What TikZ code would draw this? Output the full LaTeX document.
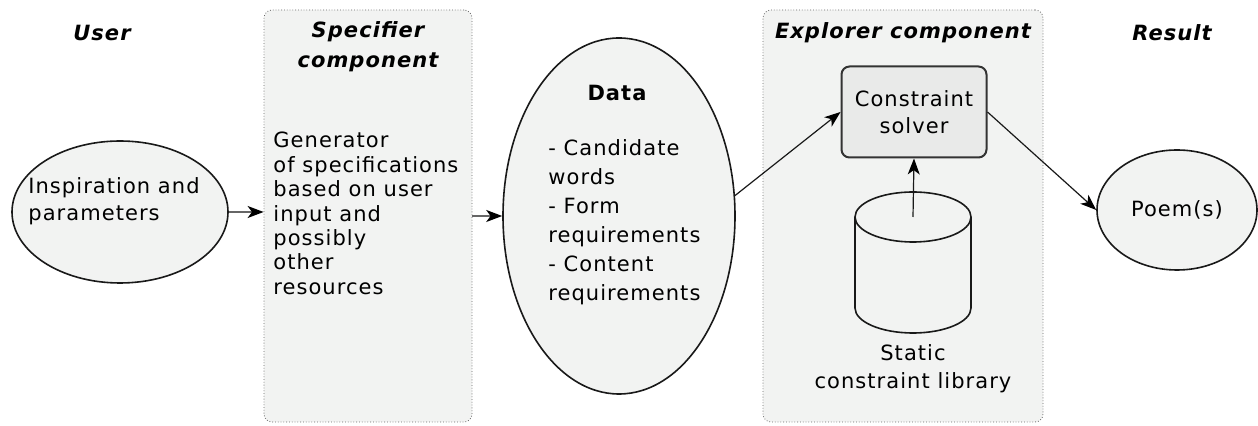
\documentclass[tikz,border=0pt]{standalone}
\usepackage{fontspec}
\setmainfont{DejaVu Sans}[LetterSpace=5]
\usetikzlibrary{positioning,shapes.geometric,arrows.meta}
\definecolor{panelfill}{RGB}{242,243,242}
\definecolor{solverfill}{RGB}{233,234,233}
\tikzset{
px/.style={x=0.5pt,y=-0.5pt},
panel/.style={draw=black!60,densely dotted,fill=panelfill,rounded corners=4pt,inner sep=0pt},
bubble/.style={ellipse,draw=black!90,line width=0.8pt,fill=panelfill,inner sep=0pt,font=\fontsize{10.5}{13.5}\selectfont},
solverbox/.style={draw=black!80,line width=1pt,fill=solverfill,rounded corners=4pt,align=center,font=\fontsize{10.5}{13.5}\selectfont},
drum/.style={draw=black!90,line width=0.8pt,fill=panelfill},
heading/.style={font=\fontsize{10.5}{15}\selectfont\bfseries\itshape,align=center},
body/.style={font=\fontsize{10.5}{12.2}\selectfont,align=left,inner sep=0pt},
listbody/.style={body,font=\fontsize{10.5}{14.5}\selectfont},
flow/.style={-{Stealth[length=8pt,width=6pt,inset=2.2pt,color=black]},line width=0.6pt,black!90},
flowthick/.style={flow,line width=0.9pt,black!60}
}
\begin{document}
\begin{tikzpicture}[px]
\useasboundingbox[fill=white] (0,0) rectangle (1258,426);
% component panels
\node[panel,minimum width=104pt,minimum height=206pt] (spec) at (368,216) {};
\node[panel,minimum width=140pt,minimum height=206pt] (expl) at (903,216) {};
% column headings
\node[heading] (userhead) at (102,33) {User};
\node[heading] (spechead) at (368,47) {Specifier\\component};
\node[heading] (explhead) at (903,33) {Explorer component};
\node[heading] (resulthead) at (1172,33) {Result};
% user input
\node[bubble,minimum width=108pt,minimum height=71pt] (insp) at (120,212) {};
\node[body,anchor=west,font=\fontsize{10.5}{13.5}\selectfont] (insptext) at (28,201) {Inspiration and\\parameters};
% specifier text
\node[body,anchor=north west] (spectext) at (273,132) {Generator\\of specifications\\based on user\\input and\\possibly\\other\\resources};
% data
\node[bubble,minimum width=116pt,minimum height=178pt] (data) at (619,216) {};
\node[font=\fontsize{10.5}{13}\selectfont\bfseries] (datahead) at (617,93) {Data};
\node[listbody,anchor=north west] (datalist) at (548,139) {- Candidate\\words\\- Form\\requirements\\- Content\\requirements};
% explorer
\node[solverbox,minimum width=72.5pt,minimum height=45.5pt] (solver) at (914,112) {Constraint\\solver};
\draw[drum] (855,217) -- (855,308) arc[start angle=180,end angle=360,x radius=29pt,y radius=12.5pt] -- (971,217);
\draw[drum] (913,217) ellipse[x radius=29pt,y radius=12.5pt];
\coordinate (libtop) at (913,217);
\node[align=center,font=\fontsize{10.5}{14}\selectfont] (libtext) at (913,369) {Static\\constraint library};
% result
\node[bubble,minimum width=80pt,minimum height=60pt] (poem) at (1177,210) {Poem(s)};
% flow
\draw[flowthick] (insp.east) -- (insp.east -| spec.west);
\draw[flowthick] (data.west -| spec.east) -- (data.west);
\draw[flow] (data.10) -- (solver.west);
\draw[flow] (libtop) -- (solver.south);
\draw[flow] (solver.east) -- (poem.west);
\end{tikzpicture}
\end{document}
